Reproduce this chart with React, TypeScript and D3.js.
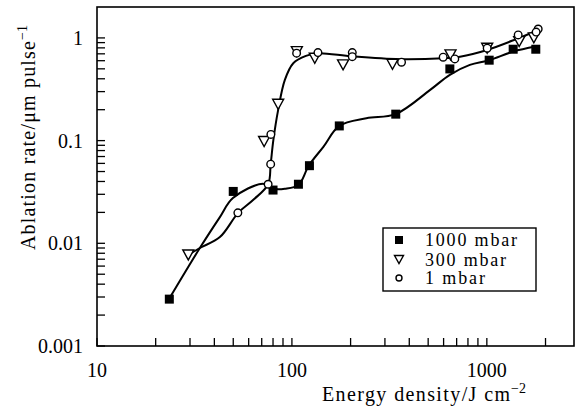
import React from "react";
import * as d3 from "d3";

// ---- data ----
const sq1000X = [23.5, 50, 80, 108, 123, 175, 341, 646, 1028, 1365, 1783];
const sq1000Y = [0.00286, 0.032, 0.033, 0.0376, 0.057, 0.139, 0.181, 0.499, 0.607, 0.776, 0.776];

const tri300X = [29.4, 72, 85, 106, 131, 183, 328, 651, 1004, 1465, 1742];
const tri300Y = [0.0077, 0.098, 0.226, 0.735, 0.634, 0.546, 0.554, 0.683, 0.794, 0.92, 1.0];

const circ1X = [52.8, 75.5, 77.8, 78, 105.7, 136, 204, 204, 365, 597, 685, 1004, 1448, 1834, 1790];
const circ1Y = [0.0198, 0.0376, 0.059, 0.115, 0.71, 0.72, 0.72, 0.657, 0.58, 0.649, 0.625, 0.794, 1.07, 1.22, 1.14];

// fitted curves
const fitHighX = [23.5, 33.7, 42.7, 49.8, 71, 80, 92, 108, 122, 145, 175, 241, 340, 510, 646, 818, 1028, 1365, 1783];
const fitHighY = [0.0029, 0.009, 0.018, 0.0276, 0.038, 0.034, 0.034, 0.037, 0.057, 0.087, 0.139, 0.165, 0.181, 0.31, 0.437, 0.546, 0.607, 0.736, 0.823];

const fitLowX = [29.4, 33.7, 42.7, 53, 63.4, 75.5, 77.8, 80.3, 85, 92, 101.6, 118, 136, 204, 358, 597, 728, 1004, 1448, 1855];
const fitLowY = [0.0077, 0.009, 0.0115, 0.0198, 0.0265, 0.0376, 0.059, 0.101, 0.199, 0.39, 0.567, 0.668, 0.71, 0.66, 0.62, 0.634, 0.657, 0.764, 0.99, 1.2];

const xMajor = [10, 100, 1000];
const xMajorLabels = ["10", "100", "1000"];
const yMajor = [0.001, 0.01, 0.1, 1];
const yMajorLabels = ["0.001", "0.01", "0.1", "1"];

const legendLabels = ["1000 mbar", "300 mbar", "1 mbar"];
const legendLens = [92, 81, 60];

const FONT = "Liberation Serif, DejaVu Serif, serif";

export default function App() {
  const W = 581, H = 409;
  const left = 97, right = 574, top = 7, bottom = 346;
  const x = d3.scaleLog().domain([10, 2800]).range([left, right]);
  const y = d3.scaleLog().domain([0.001, 2]).range([bottom, top]);

  const xTicks = x.ticks().filter((v) => v >= 10 && v <= 2800);
  const yTicks = y.ticks().filter((v) => v >= 0.001 && v < 2);

  const line = d3
    .line<[number, number]>()
    .x((d) => x(d[0]))
    .y((d) => y(d[1]))
    .curve(d3.curveCatmullRom.alpha(0.5));

  const highPts = fitHighX.map((v, i) => [v, fitHighY[i]] as [number, number]);
  const lowPts = fitLowX.map((v, i) => [v, fitLowY[i]] as [number, number]);

  const square = (cx: number, cy: number, s: number, key: string) => (
    <rect key={key} x={cx - s / 2} y={cy - s / 2} width={s} height={s} fill="#000" />
  );
  const tri = (cx: number, cy: number, w: number, h: number, key: string) => (
    <path
      key={key}
      d={`M${cx - w / 2},${cy - h / 2}L${cx + w / 2},${cy - h / 2}L${cx},${cy + h / 2}Z`}
      fill="#fff"
      stroke="#000"
      strokeWidth={1.4}
    />
  );
  const circ = (cx: number, cy: number, r: number, key: string) => (
    <circle key={key} cx={cx} cy={cy} r={r} fill="#fff" stroke="#000" strokeWidth={1.4} />
  );

  const legX = 383, legY = 228, legW = 153, legH = 63;
  const rowY = [240, 259.5, 278];
  const ts = { fontFamily: FONT };

  return (
    <svg width={W} height={H} style={{ position: "absolute", left: 0, top: 0, background: "#fff", fontFamily: FONT }}>
      <rect x={0} y={0} width={W} height={H} fill="#fff" />
      {/* ticks */}
      {xTicks.map((v, i) => (
        <line key={"xt" + i} x1={x(v)} x2={x(v)} y1={bottom} y2={bottom - 8} stroke="#000" strokeWidth={1.3} />
      ))}
      {yTicks.map((v, i) => (
        <line key={"yt" + i} x1={left} x2={left + 8} y1={y(v)} y2={y(v)} stroke="#000" strokeWidth={1.3} />
      ))}
      {/* frame */}
      <rect x={left} y={top} width={right - left} height={bottom - top} fill="none" stroke="#000" strokeWidth={1.6} />

      {/* tick labels */}
      {xMajor.map((v, i) => (
        <text key={"xl" + i} style={ts} x={x(v)} y={377} fontSize={20} textAnchor="middle" fill="#000">
          {xMajorLabels[i]}
        </text>
      ))}
      {yMajor.map((v, i) => (
        <text key={"yl" + i} style={ts} x={83} y={y(v)} dy="0.35em" fontSize={20} textAnchor="end" fill="#000">
          {yMajorLabels[i]}
        </text>
      ))}

      {/* axis titles */}
      <text style={ts} x={322} y={401} fontSize={20} fill="#000" textLength={188} lengthAdjust="spacing">
        Energy density/J cm
      </text>
      <text style={ts} x={511} y={393} fontSize={14} fill="#000">
        −2
      </text>
      <text style={ts} transform="translate(35,250) rotate(-90)" fontSize={20} fill="#000" textLength={209} lengthAdjust="spacing">
        Ablation rate/μm pulse
      </text>
      <text style={ts} transform="translate(27,40) rotate(-90)" fontSize={14} fill="#000">
        −1
      </text>

      {/* curves */}
      <path d={line(highPts) || ""} fill="none" stroke="#000" strokeWidth={2} />
      <path d={line(lowPts) || ""} fill="none" stroke="#000" strokeWidth={2} />

      {/* markers */}
      {sq1000X.map((v, i) => square(x(v), y(sq1000Y[i]), 9, "s" + i))}
      {tri300X.map((v, i) => tri(x(v), y(tri300Y[i]), 11, 10, "t" + i))}
      {circ1X.map((v, i) => circ(x(v), y(circ1Y[i]), 3.8, "c" + i))}

      {/* legend */}
      <rect x={legX} y={legY} width={legW} height={legH} fill="#fff" stroke="#000" strokeWidth={1.4} />
      {square(399, rowY[0], 8, "ls")}
      {tri(399, rowY[1], 9, 8, "lt")}
      {circ(399, rowY[2], 3, "lc")}
      {legendLabels.map((t, i) => (
        <text key={"lg" + i} style={ts} x={425} y={rowY[i]} dy="0.35em" fontSize={18} fill="#000" textLength={legendLens[i]} lengthAdjust="spacing">
          {t}
        </text>
      ))}
    </svg>
  );
}
